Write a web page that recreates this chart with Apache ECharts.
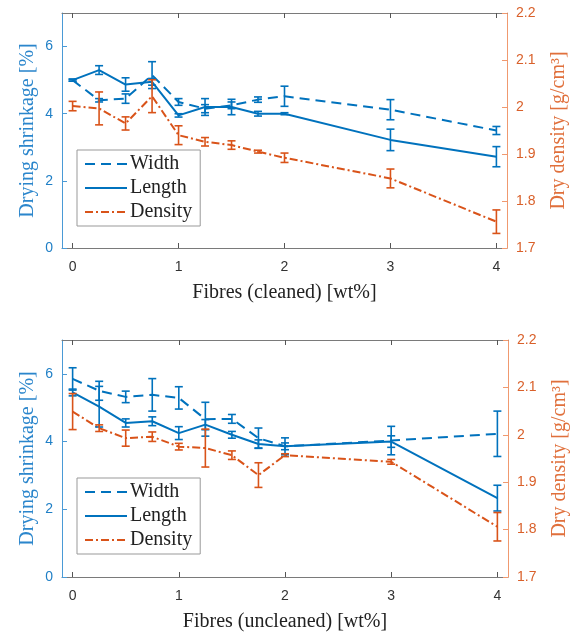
<!DOCTYPE html>
<html>
<head>
<meta charset="utf-8">
<script src="https://cdn.jsdelivr.net/npm/echarts@6/dist/echarts.min.js"></script>
<style>
    body { margin: 0; background: #fff; }
    #shrink-1 { width: 576px; height: 317px; }
    #shrink-2 { width: 576px; height: 318px; }
</style>
</head>
<body>
<div id="shrink-1"></div>
<div id="shrink-2"></div>

<script type="text/javascript">
    var fibres = [0, 0.25, 0.5, 0.75, 1, 1.25, 1.5, 1.75, 2, 3, 4];
    var xTicks = [0, 1, 2, 3, 4];
    var shrinkTicks = [0, 2, 4, 6];
    var densityTicks = [1.7, 1.8, 1.9, 2, 2.1, 2.2];

    // cleaned fibres
    var widthClean = [5.0, 4.4, 4.45, 5.15, 4.35, 4.15, 4.25, 4.42, 4.52, 4.12, 3.5];
    var widthCleanErr = [0.03, 0.05, 0.14, 0.4, 0.1, 0.12, 0.1, 0.08, 0.3, 0.3, 0.12];
    var lengthClean = [5.0, 5.3, 4.87, 4.95, 3.95, 4.2, 4.2, 4.0, 4.0, 3.22, 2.72];
    var lengthCleanErr = [0.03, 0.13, 0.2, 0.1, 0.05, 0.25, 0.23, 0.07, 0.03, 0.32, 0.3];
    var densityClean = [2.002, 1.997, 1.965, 2.023, 1.94, 1.926, 1.919, 1.905, 1.892, 1.848, 1.756];
    var densityCleanErr = [0.01, 0.035, 0.014, 0.035, 0.02, 0.009, 0.009, 0.003, 0.01, 0.02, 0.025];

    // uncleaned fibres
    var widthRaw = [5.85, 5.5, 5.32, 5.38, 5.29, 4.66, 4.67, 4.1, 3.86, 4.03, 4.23];
    var widthRawErr = [0.33, 0.28, 0.17, 0.48, 0.33, 0.5, 0.13, 0.3, 0.25, 0.42, 0.67];
    var lengthRaw = [5.45, 5.03, 4.55, 4.6, 4.25, 4.5, 4.2, 3.93, 3.86, 4.0, 2.33];
    var lengthRawErr = [0.1, 0.6, 0.12, 0.13, 0.19, 0.15, 0.1, 0.12, 0.1, 0.17, 0.38];
    var densityRaw = [2.049, 2.014, 1.993, 1.996, 1.975, 1.972, 1.957, 1.915, 1.957, 1.943, 1.806];
    var densityRawErr = [0.038, 0.007, 0.017, 0.01, 0.007, 0.04, 0.009, 0.026, 0.003, 0.005, 0.03];

    var blue = '#0072BD';
    var orange = '#D95319';
    var serif = 'Liberation Serif';
    var sans = 'Liberation Sans';

    function pairs(vals) {
        return fibres.map(function (x, i) { return [x, vals[i]]; });
    }

    function lineSeries(name, color, yIdx, vals, dash) {
        return {
            name: name, type: 'line', xAxisIndex: 0, yAxisIndex: yIdx,
            data: pairs(vals), symbol: 'none', showSymbol: false, z: 4,
            lineStyle: {color: color, width: 2, type: dash},
            itemStyle: {color: color}
        };
    }

    function errorBars(color, yIdx, vals, errs) {
        return {
            type: 'custom', xAxisIndex: 0, yAxisIndex: yIdx, silent: true, z: 5,
            encode: {x: 0, y: 1},
            data: fibres.map(function (x, i) { return [x, vals[i], errs[i]]; }),
            renderItem: function (params, api) {
                var x = api.value(0), y = api.value(1), e = api.value(2);
                var hi = api.coord([x, y + e]);
                var lo = api.coord([x, y - e]);
                var cap = 4;
                var st = {stroke: color, lineWidth: 1.6};
                return {
                    type: 'group',
                    children: [
                        {type: 'line', shape: {x1: hi[0], y1: hi[1], x2: lo[0], y2: lo[1]}, style: st},
                        {type: 'line', shape: {x1: hi[0] - cap, y1: hi[1], x2: hi[0] + cap, y2: hi[1]}, style: st},
                        {type: 'line', shape: {x1: lo[0] - cap, y1: lo[1], x2: lo[0] + cap, y2: lo[1]}, style: st}
                    ]
                };
            }
        };
    }

    function panelOption(xName, grid, legendTop, w, wErr, l, lErr, d, dErr) {
        grid.outerBoundsMode = 'none';
        return {
            animation: false,
            grid: grid,
            legend: {
                orient: 'vertical', left: 77, top: legendTop,
                data: ['Width', 'Length', 'Density'],
                selectedMode: false,
                itemWidth: 42, itemHeight: 12, itemGap: 4,
                padding: [4, 8, 4, 7],
                itemStyle: {opacity: 0},
                borderColor: '#999', borderWidth: 1, backgroundColor: '#fff',
                textStyle: {fontFamily: serif, fontSize: 20, color: '#222', padding: [0, 0, 0, -2]}
            },
            xAxis: [
                {
                    type: 'value', min: -0.1, max: 4.1, position: 'bottom',
                    name: xName, nameLocation: 'middle', nameGap: 35, nameMoveOverlap: false,
                    nameTextStyle: {fontFamily: serif, fontSize: 20, color: '#222'},
                    axisLine: {onZero: false, lineStyle: {color: '#7a7a7a'}},
                    axisTick: {inside: true, length: 5, customValues: xTicks, lineStyle: {color: '#555'}},
                    axisLabel: {customValues: xTicks, color: '#333', fontSize: 14, fontFamily: sans, margin: 12},
                    splitLine: {show: false}
                },
                {
                    type: 'value', min: -0.1, max: 4.1, position: 'top',
                    axisLine: {onZero: false, lineStyle: {color: '#7a7a7a'}},
                    axisTick: {inside: true, length: 5, customValues: xTicks, lineStyle: {color: '#555'}},
                    axisLabel: {show: false},
                    splitLine: {show: false}
                }
            ],
            yAxis: [
                {
                    type: 'value', min: 0, max: 7, position: 'left',
                    name: 'Drying shrinkage [%]', nameLocation: 'middle', nameGap: 24, nameMoveOverlap: false,
                    nameTextStyle: {fontFamily: serif, fontSize: 20, color: '#2b86cc'},
                    axisLine: {show: true, onZero: false, lineStyle: {color: '#4a9ad6'}},
                    axisTick: {show: true, inside: true, length: 5, customValues: shrinkTicks},
                    axisLabel: {customValues: shrinkTicks, color: '#1f7fc6', fontSize: 14, fontFamily: sans, margin: 9},
                    splitLine: {show: false}
                },
                {
                    type: 'value', min: 1.7, max: 2.2, position: 'right',
                    name: 'Dry density [g/cm³]', nameLocation: 'middle', nameGap: 42, nameMoveOverlap: false,
                    nameTextStyle: {fontFamily: serif, fontSize: 20, color: '#e0703c'},
                    axisLine: {show: true, onZero: false, lineStyle: {color: '#f0996f'}},
                    axisTick: {show: true, inside: true, length: 5, customValues: densityTicks},
                    axisLabel: {customValues: densityTicks, color: '#d9602a', fontSize: 14, fontFamily: sans, margin: 9},
                    splitLine: {show: false}
                }
            ],
            series: [
                lineSeries('Width', blue, 0, w, [10, 6]),
                lineSeries('Length', blue, 0, l, 'solid'),
                lineSeries('Density', orange, 1, d, [8, 3, 2, 3]),
                errorBars(blue, 0, w, wErr),
                errorBars(blue, 0, l, lErr),
                errorBars(orange, 1, d, dErr)
            ]
        };
    }

    var myChart1 = echarts.init(document.getElementById('shrink-1'));
    myChart1.setOption(panelOption('Fibres (cleaned) [wt%]',
        {left: 62, right: 69, top: 13, bottom: 69}, 150,
        widthClean, widthCleanErr, lengthClean, lengthCleanErr, densityClean, densityCleanErr));

    var myChart2 = echarts.init(document.getElementById('shrink-2'));
    myChart2.setOption(panelOption('Fibres (uncleaned) [wt%]',
        {left: 62, right: 68, top: 23, bottom: 58}, 161,
        widthRaw, widthRawErr, lengthRaw, lengthRawErr, densityRaw, densityRawErr));

    window.onresize = function () {
        myChart1.resize();
        myChart2.resize();
    };
</script>
</body>
</html>
